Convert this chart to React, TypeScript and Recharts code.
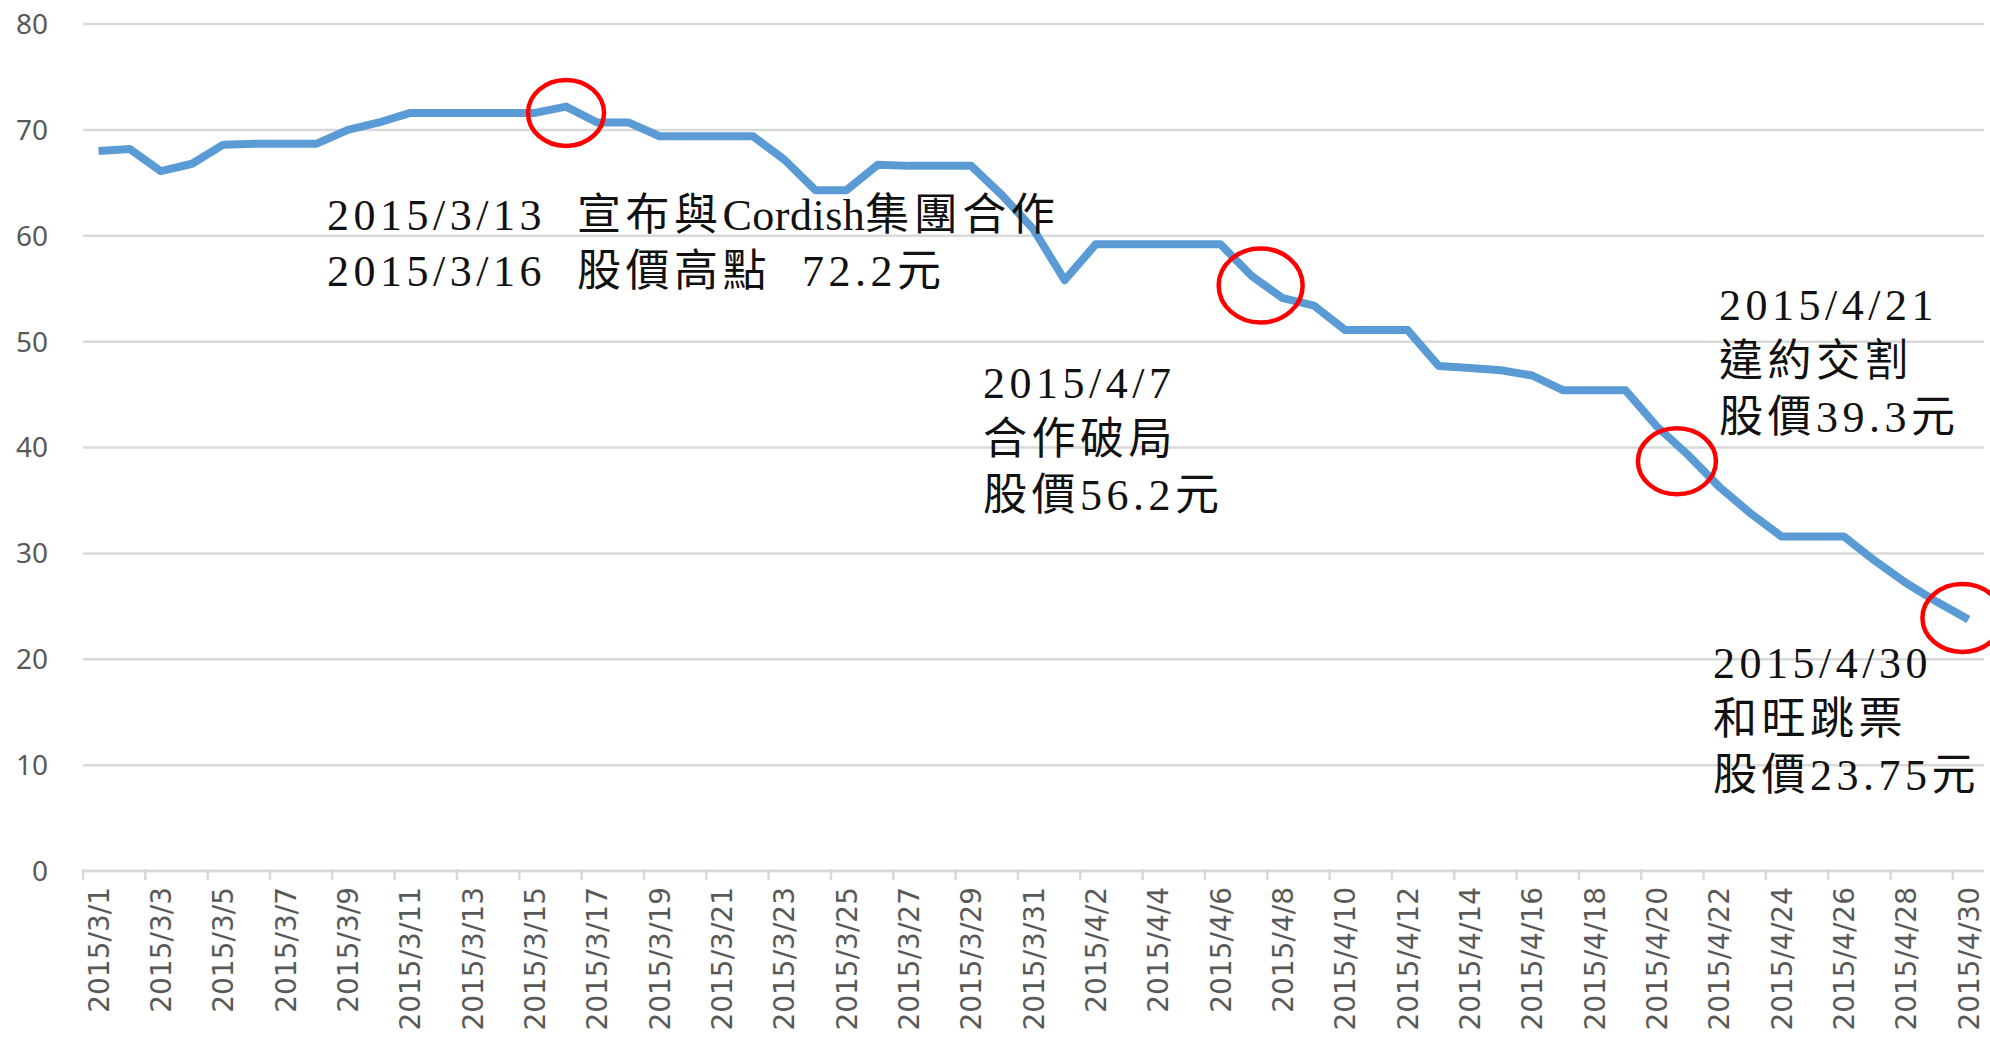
import { LineChart, Line, XAxis, YAxis, CartesianGrid, ReferenceDot } from "recharts";

const dates = [
  "2015/3/1", "2015/3/2", "2015/3/3", "2015/3/4", "2015/3/5", "2015/3/6", "2015/3/7", "2015/3/8",
  "2015/3/9", "2015/3/10", "2015/3/11", "2015/3/12", "2015/3/13", "2015/3/14", "2015/3/15",
  "2015/3/16", "2015/3/17", "2015/3/18", "2015/3/19", "2015/3/20", "2015/3/21", "2015/3/22",
  "2015/3/23", "2015/3/24", "2015/3/25", "2015/3/26", "2015/3/27", "2015/3/28", "2015/3/29",
  "2015/3/30", "2015/3/31", "2015/4/1", "2015/4/2", "2015/4/3", "2015/4/4", "2015/4/5",
  "2015/4/6", "2015/4/7", "2015/4/8", "2015/4/9", "2015/4/10", "2015/4/11", "2015/4/12",
  "2015/4/13", "2015/4/14", "2015/4/15", "2015/4/16", "2015/4/17", "2015/4/18", "2015/4/19",
  "2015/4/20", "2015/4/21", "2015/4/22", "2015/4/23", "2015/4/24", "2015/4/25", "2015/4/26",
  "2015/4/27", "2015/4/28", "2015/4/29", "2015/4/30",
];

const prices = [
  68.0, 68.2, 66.1, 66.8, 68.6, 68.7, 68.7, 68.7,
  70.0, 70.7, 71.6, 71.6, 71.6, 71.6, 71.6,
  72.2, 70.7, 70.7, 69.4, 69.4, 69.4, 69.4,
  67.2, 64.3, 64.3, 66.7, 66.6, 66.6, 66.6,
  63.8, 60.6, 55.8, 59.2, 59.2, 59.2, 59.2,
  59.2, 56.2, 54.1, 53.4, 51.1, 51.1, 51.1,
  47.7, 47.5, 47.3, 46.8, 45.4, 45.4, 45.4,
  42.0, 39.3, 36.3, 33.8, 31.6, 31.6, 31.6,
  29.3, 27.2, 25.4, 23.75,
];

const yTicks = [0, 10, 20, 30, 40, 50, 60, 70, 80];

// highlighted days (red rings)
const marks = [
  { date: "2015/3/16", value: 71.6, dx: 0, rx: 38, ry: 33 },
  { date: "2015/4/7", value: 55.3, dx: 9, rx: 42, ry: 37 },
  { date: "2015/4/21", value: 38.7, dx: -11, rx: 39, ry: 33 },
  { date: "2015/4/30", value: 23.9, dx: -6, rx: 40, ry: 34 },
];

// each line is a list of [text, letterSpacing] pieces
const notes = [
  {
    x: 327,
    y: 230,
    lines: [
      [["2015/3/13  宣布與", 4.5], ["Cordish", 0.5], ["集團合作", 4.5]],
      [["2015/3/16  股價高點  72.2元", 4.5]],
    ],
  },
  { x: 983, y: 398, lines: [[["2015/4/7", 4.5]], [["合作破局", 4.5]], [["股價56.2元", 4.5]]] },
  { x: 1719, y: 320, lines: [[["2015/4/21", 4.5]], [["違約交割", 4.5]], [["股價39.3元", 4.5]]] },
  { x: 1713, y: 678, lines: [[["2015/4/30", 4.5]], [["和旺跳票", 4.5]], [["股價23.75元", 4.5]]] },
];

const data = dates.map((d, i) => ({ date: d, price: prices[i] }));

const HALF_STEP = 15.58;

function DateTick({ x, y, payload }: any) {
  return (
    <g>
      <line x1={x - HALF_STEP} x2={x - HALF_STEP} y1={y - 2} y2={y + 9} stroke="#d9d9d9" strokeWidth={2.5} />
      <text
        transform={`translate(${x},${y + 16}) rotate(-90)`}
        textAnchor="end"
        dy="0.36em"
        fill="#595959"
        fontSize={28}
        fontFamily="'DejaVu Sans', sans-serif"
      >
        {payload.value}
      </text>
    </g>
  );
}

export default function App() {
  return (
    <div style={{ position: "absolute", left: 0, top: 0, width: 1990, height: 1037, background: "#fff" }}>
      <LineChart width={1990} height={1037} data={data} margin={{ top: 24, right: 6, left: 0, bottom: 0 }}>
        <CartesianGrid vertical={false} stroke="#d9d9d9" strokeWidth={2.5} />
        <XAxis
          dataKey="date"
          interval={1}
          height={166}
          padding={{ left: HALF_STEP, right: HALF_STEP }}
          axisLine={{ stroke: "#d9d9d9", strokeWidth: 2.5 }}
          tickLine={false}
          tickSize={0}
          tickMargin={0}
          tick={<DateTick />}
        />
        <YAxis
          domain={[0, 80]}
          ticks={yTicks}
          width={83}
          axisLine={false}
          tickLine={false}
          tickSize={0}
          tickMargin={35}
          tick={{ fill: "#595959", fontSize: 28, fontFamily: "'Noto Sans', sans-serif" }}
        />
        <Line
          type="linear"
          dataKey="price"
          stroke="#5b9bd5"
          strokeWidth={8}
          strokeLinejoin="round"
          dot={false}
          isAnimationActive={false}
        />
        {marks.map((m) => (
          <ReferenceDot
            key={m.date}
            x={m.date}
            y={m.value}
            r={1}
            ifOverflow="visible"
            shape={(p: any) => (
              <ellipse cx={p.cx + m.dx} cy={p.cy} rx={m.rx} ry={m.ry} fill="none" stroke="#ff0000" strokeWidth={4.5} />
            )}
          />
        ))}
      </LineChart>
      <svg
        width={1990}
        height={1037}
        style={{ position: "absolute", left: 0, top: 0, pointerEvents: "none" }}
      >
        {notes.map((n, i) =>
          n.lines.map((pieces, j) => (
            <text
              key={`${i}-${j}`}
              x={n.x}
              y={n.y + j * 56}
              fill="#111"
              fontSize={44}
              fontFamily="'Liberation Serif', 'Noto Sans CJK TC', serif"
              style={{ whiteSpace: "pre" }}
            >
              {pieces.map(([t, ls], k) => (
                <tspan key={k} letterSpacing={ls as number}>
                  {t as string}
                </tspan>
              ))}
            </text>
          ))
        )}
      </svg>
    </div>
  );
}
